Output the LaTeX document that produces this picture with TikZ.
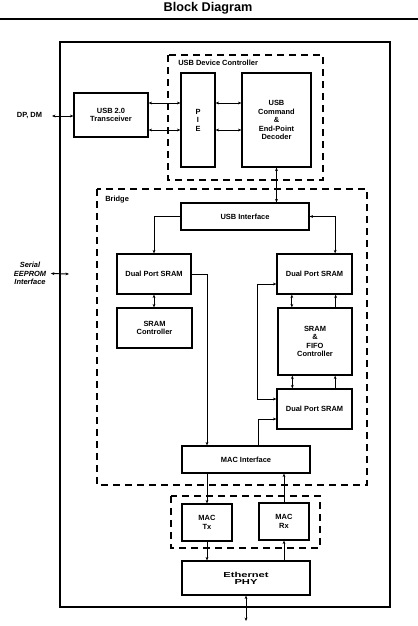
\documentclass[tikz,border=0pt]{standalone}
\usepackage{fontspec}
\setmainfont{Liberation Sans}
\usepackage{tikz}
\usetikzlibrary{arrows.meta,positioning,calc}

\begin{document}
\begin{tikzpicture}[
  x=0.75pt, y=-0.75pt,
  font=\bfseries\fontsize{5.6}{6.4}\selectfont,
  >={Stealth[length=2.6pt,width=2.1pt]},
  blockbox/.style={
    draw,
    line width=0.9pt,
    align=center,
    inner sep=1pt
  },
  groupbox/.style={
    draw,
    line width=0.9pt,
    dash pattern=on 5.5pt off 3.5pt
  },
  grouplabel/.style={
    anchor=west,
    inner sep=0pt
  },
  link/.style={
    line width=0.7pt
  }
]
  \useasboundingbox (0,0) rectangle (418,626);

  % ----------------------------------------------------
  % TITLE AND FRAME
  % ----------------------------------------------------
  \node[font=\bfseries\fontsize{9.5}{11}\selectfont] (title) at (208,8) {Block Diagram};
  \draw[line width=0.8pt] (0,19) -- (418,19);

  \draw[line width=0.9pt] (60,42) rectangle (390,607);

  % ----------------------------------------------------
  % USB DEVICE CONTROLLER
  % ----------------------------------------------------
  \draw[groupbox] (168,55) rectangle (323,180);
  \node[grouplabel] (udc_lbl) at (178,63) {USB Device Controller};

  \node[blockbox, minimum width=55.5pt, minimum height=33pt] (xcvr) at (111,115) {
    USB 2.0\\Transceiver
  };

  \node[blockbox, minimum width=25.5pt, minimum height=70.5pt] (pie) at (198,120) {
    P\\I\\E
  };

  \node[blockbox, minimum width=51.75pt, minimum height=70.5pt] (cmd) at (276.5,120) {
    USB\\Command\\\&\\End-Point\\Decoder
  };

  \node (dpdm) at (29.5,116) {DP, DM};

  % ----------------------------------------------------
  % BRIDGE
  % ----------------------------------------------------
  \draw[groupbox] (97,189) rectangle (367,485);
  \node[grouplabel] (bridge_lbl) at (105,200) {Bridge};

  \node[blockbox, minimum width=96pt, minimum height=20.25pt] (usbif) at (245,216.5) {USB Interface};

  \node[blockbox, minimum width=55.5pt, minimum height=30pt] (dpsL) at (154,274) {Dual Port SRAM};
  \node[blockbox, minimum width=56.25pt, minimum height=30pt] (sramc) at (154.5,328) {
    SRAM\\Controller
  };

  \node[blockbox, minimum width=56.25pt, minimum height=30pt] (dpsR) at (314.5,274) {Dual Port SRAM};
  \node[blockbox, minimum width=55.5pt, minimum height=50.25pt] (fifo) at (315,341.5) {
    SRAM\\\&\\FIFO\\Controller
  };
  \node[blockbox, minimum width=56.25pt, minimum height=30pt] (dpsB) at (314.5,409) {Dual Port SRAM};

  \node[blockbox, minimum width=96pt, minimum height=20.25pt] (macif) at (246,459.5) {MAC Interface};

  \node[align=center, font=\bfseries\itshape\fontsize{5.6}{6.4}\selectfont] (eeprom) at (30,273.5) {
    Serial\\EEPROM\\Interface
  };

  % ----------------------------------------------------
  % MAC AND PHY
  % ----------------------------------------------------
  \draw[groupbox] (171,496) rectangle (320,548);

  \node[blockbox, minimum width=37.5pt, minimum height=27.75pt] (mactx) at (207,522.5) {MAC\\Tx};
  \node[blockbox, minimum width=37.5pt, minimum height=27.75pt] (macrx) at (284,521.5) {MAC\\Rx};

  \node[blockbox, minimum width=96pt, minimum height=25.5pt,
        font=\bfseries\fontsize{5.4}{5.2}\selectfont\addfontfeature{FakeStretch=1.55}] (phy) at (246,578) {
    Ethernet\\PHY
  };

  \coordinate (dpdm_pin) at (52,116);
  \coordinate (eeprom_pin) at (69,274);
  \coordinate (phy_pin) at (246,621);

  % Connectors
  \draw[link, <->] (dpdm_pin) -- (dpdm_pin -| xcvr.west);
  \draw[link, <->] (eeprom.east) -- (eeprom_pin);

  \draw[link, <->] ([yshift=9pt]xcvr.east) -- ([yshift=9pt]xcvr.east -| pie.west);
  \draw[link, <->] ([yshift=-11.25pt]xcvr.east) -- ([yshift=-11.25pt]xcvr.east -| pie.west);
  \draw[link, <->] ([yshift=12.75pt]pie.east) -- ([yshift=12.75pt]pie.east -| cmd.west);
  \draw[link, <->] ([yshift=-7.5pt]pie.east) -- ([yshift=-7.5pt]pie.east -| cmd.west);

  \draw[link, <->] (cmd.south) -- (cmd.south |- usbif.north);

  \draw[link, ->] (usbif.west) -| (dpsL.north);
  \draw[link, <->] (usbif.east) -| ([xshift=15.5pt]dpsR.north);

  \draw[link, <->] (dpsL.south) -- (dpsL.south |- sramc.north);
  \draw[link, ->] (dpsL.east) -| (mactx.north |- macif.north);

  \draw[link, <->] ([xshift=-17pt]dpsR.south) -- ([xshift=-17pt]dpsR.south |- fifo.north);
  \draw[link, ->] ([xshift=15.5pt]fifo.north) -- ([xshift=15.5pt]fifo.north |- dpsR.south);
  \draw[link, <->] ([xshift=-17pt]fifo.south) -- ([xshift=-17pt]fifo.south |- dpsB.north);
  \draw[link, ->] ([xshift=15.5pt]dpsB.north) -- ([xshift=15.5pt]dpsB.north |- fifo.south);

  \draw[link, <->] ([yshift=-7.5pt]dpsR.west) -- ++(-14.25pt,0) |- ([yshift=7.5pt]dpsB.west);
  \draw[link, ->] ([xshift=9pt]macif.north) |- ([yshift=-7.5pt]dpsB.west);

  \draw[link, ->] (macif.south -| mactx.north) -- (mactx.north);
  \draw[link, ->] (macrx.north) -- (macrx.north |- macif.south);
  \draw[link, ->] (mactx.south) -- (mactx.south |- phy.north);
  \draw[link, ->] (phy.north -| macrx.south) -- (macrx.south);
  \draw[link, <->] (phy.south) -- (phy_pin);

\end{tikzpicture}
\end{document}
